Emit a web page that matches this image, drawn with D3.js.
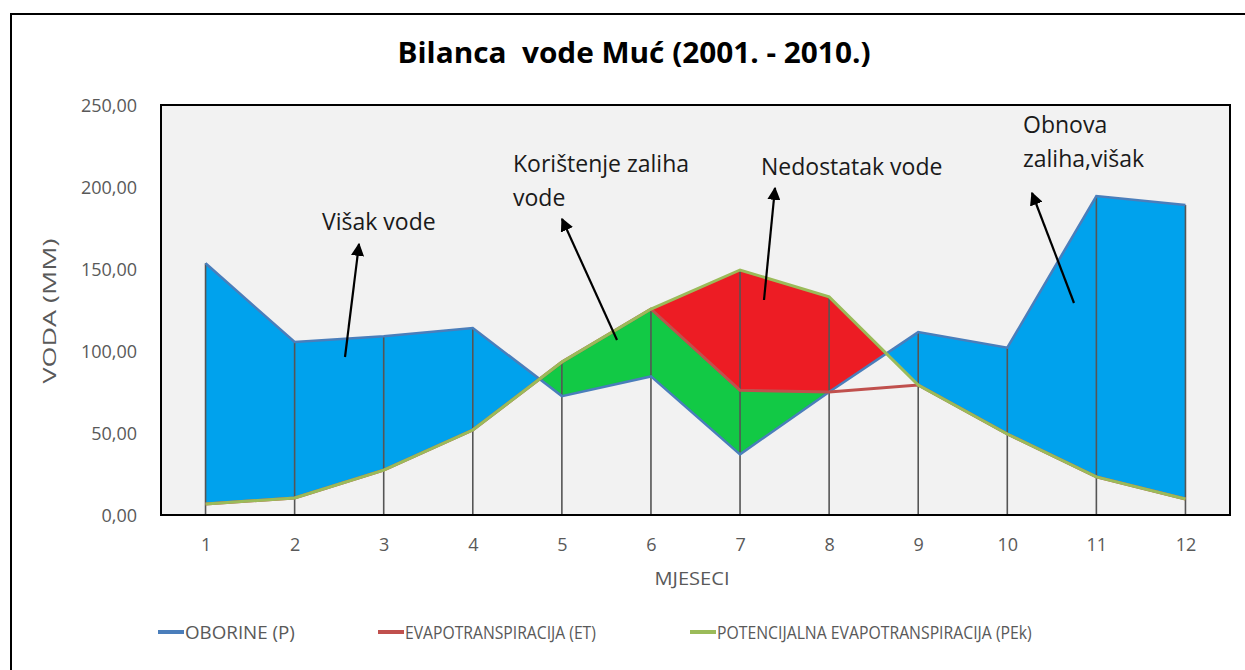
<!DOCTYPE html>
<html>
<head>
<meta charset="utf-8">
<script src="https://cdn.jsdelivr.net/npm/d3@7"></script>
<style>
  body { margin: 0; background: #fff; }
  svg { display: block; }
  text { font-family: "Open Sans", "Noto Sans", sans-serif; }
</style>
</head>
<body>
<svg id="chart" width="1245" height="670"></svg>
<script>
// monthly values, mm
const months = [1, 2, 3, 4, 5, 6, 7, 8, 9, 10, 11, 12]
const oborine = [153.5, 105.5, 109, 114, 72.5, 84.5, 37, 75, 111.5, 102, 194.5, 189]
const evapotranspiracija = [6.7, 10.4, 27.4, 51.8, 93.3, 125.6, 76, 75, 79.3, 49.4, 23.2, 9.8]
const potencijalna = [6.7, 10.4, 27.4, 51.8, 93.3, 125.6, 149.4, 133, 79.3, 49.4, 23.2, 9.8]
const yTicks = [0, 50, 100, 150, 200, 250]

const notes = [
  { lines: ['Višak vode'], x: 322, y: 230, from: [345, 357], to: [359, 244] },
  { lines: ['Korištenje zaliha', 'vode'], x: 513, y: 172, from: [617, 340], to: [562, 219] },
  { lines: ['Nedostatak vode'], x: 761, y: 175, from: [764, 300], to: [775, 188] },
  { lines: ['Obnova', 'zaliha,višak'], x: 1023, y: 133, from: [1074, 303], to: [1032, 193] }
]

const legendItems = [
  { name: 'OBORINE (P)', color: '#4a7ebb', x: 158, w: 110 },
  { name: 'EVAPOTRANSPIRACIJA (ET)', color: '#c0504d', x: 378, w: 191 },
  { name: 'POTENCIJALNA EVAPOTRANSPIRACIJA (PEk)', color: '#9bbb59', x: 690, w: 315 }
]

const svg = d3.select('#chart')
const plot = { left: 161, top: 105, right: 1230, bottom: 515 }

const rows = months.map((m, i) => ({ m, p: oborine[i], et: evapotranspiracija[i], pe: potencijalna[i] }))

const x = d3.scalePoint().domain(months).range([plot.left, plot.right]).padding(0.5)
const y = d3.scaleLinear().domain([0, 250]).range([plot.bottom, plot.top])

// squeeze a text horizontally to a given width (narrow office font look)
function fitWidth (sel, w) {
  sel.each(function (d) {
    const len = this.getComputedTextLength()
    const target = typeof w === 'function' ? w(d) : w
    const x0 = +this.getAttribute('x') || 0
    d3.select(this).attr('transform', `translate(${x0},0) scale(${target / len},1) translate(${-x0},0)`)
  })
}

// outer frame
svg.append('rect')
  .attr('x', 11).attr('y', 14).attr('width', 1260).attr('height', 700)
  .attr('fill', '#fff').attr('stroke', '#000').attr('stroke-width', 2)

svg.append('text')
  .attr('x', 634).attr('y', 63)
  .attr('text-anchor', 'middle')
  .attr('font-size', 28).attr('font-weight', 'bold').attr('fill', '#000')
  .attr('textLength', 473).attr('lengthAdjust', 'spacingAndGlyphs')
  .text('Bilanca\u00a0 vode Muć (2001. - 2010.)')

svg.append('rect')
  .attr('x', plot.left).attr('y', plot.top)
  .attr('width', plot.right - plot.left).attr('height', plot.bottom - plot.top)
  .attr('fill', '#f2f2f2')

// clip regions: everything above a given series
const defs = svg.append('defs')
const above = (id, key) => {
  defs.append('clipPath').attr('id', id)
    .append('path')
    .attr('d', d3.area().x(d => x(d.m)).y0(d => y(d[key])).y1(plot.top - 5)(rows))
}
above('abovePE', 'pe')
above('aboveP', 'p')
above('aboveET', 'et')

const band = (a, b) => d3.area().x(d => x(d.m)).y0(d => y(d[a])).y1(d => y(d[b]))

// surplus: P above PE
svg.append('path')
  .attr('d', band('pe', 'p')(rows))
  .attr('clip-path', 'url(#abovePE)')
  .attr('fill', '#00a2ed')

// use of soil storage: ET above P
svg.append('path')
  .attr('d', band('p', 'et')(rows))
  .attr('clip-path', 'url(#aboveP)')
  .attr('fill', '#12c945')

// deficit: PE above ET and P
svg.append('g').attr('clip-path', 'url(#aboveP)')
  .append('path')
  .attr('d', band('et', 'pe')(rows))
  .attr('clip-path', 'url(#aboveET)')
  .attr('fill', '#ed1c24')

// drop lines
svg.append('g').selectAll('line')
  .data(rows)
  .join('line')
  .attr('x1', d => x(d.m)).attr('x2', d => x(d.m))
  .attr('y1', d => y(Math.max(d.p, d.pe, d.et))).attr('y2', plot.bottom)
  .attr('stroke', '#555').attr('stroke-width', 1.6)

const line = key => d3.line().x(d => x(d.m)).y(d => y(d[key]))
svg.append('path').attr('d', line('p')(rows))
  .attr('fill', 'none').attr('stroke', '#4a7ebb').attr('stroke-width', 2.5)
svg.append('path').attr('d', line('et')(rows))
  .attr('fill', 'none').attr('stroke', '#c0504d').attr('stroke-width', 3)
svg.append('path').attr('d', line('pe')(rows))
  .attr('fill', 'none').attr('stroke', '#9bbb59').attr('stroke-width', 3)

// plot border
svg.append('rect')
  .attr('x', plot.left).attr('y', plot.top)
  .attr('width', plot.right - plot.left).attr('height', plot.bottom - plot.top)
  .attr('fill', 'none').attr('stroke', '#000').attr('stroke-width', 2)

// axes
const yAxis = svg.append('g')
  .attr('transform', `translate(${plot.left - 21},0)`)
  .call(d3.axisLeft(y).tickValues(yTicks).tickSize(0).tickFormat(d => d3.format('.2f')(d).replace('.', ',')))
yAxis.select('.domain').remove()
yAxis.selectAll('text')
  .attr('font-size', 18).attr('fill', '#595959').attr('font-family', '"Open Sans", sans-serif')
  .attr('dy', '0.35em')

const xAxis = svg.append('g')
  .attr('transform', `translate(0,${plot.bottom + 20})`)
  .call(d3.axisBottom(x).tickSize(0))
xAxis.select('.domain').remove()
xAxis.selectAll('text')
  .attr('font-size', 18).attr('fill', '#595959').attr('font-family', '"Open Sans", sans-serif')

svg.append('text')
  .attr('transform', 'translate(56,311) rotate(-90)')
  .attr('text-anchor', 'middle')
  .attr('font-size', 18).attr('fill', '#595959')
  .attr('textLength', 145).attr('lengthAdjust', 'spacingAndGlyphs')
  .text('VODA (MM)')

svg.append('text')
  .attr('x', 692).attr('y', 585)
  .attr('text-anchor', 'middle')
  .attr('font-size', 18).attr('fill', '#595959')
  .attr('textLength', 75).attr('lengthAdjust', 'spacingAndGlyphs')
  .text('MJESECI')

// annotations
defs.append('marker')
  .attr('id', 'head')
  .attr('viewBox', '0 0 10 10')
  .attr('refX', 9).attr('refY', 5)
  .attr('markerWidth', 6).attr('markerHeight', 6)
  .attr('orient', 'auto')
  .append('path').attr('d', 'M0,0L10,5L0,10z').attr('fill', '#000')

const note = svg.append('g').selectAll('g')
  .data(notes)
  .join('g')

note.append('line')
  .attr('x1', d => d.from[0]).attr('y1', d => d.from[1])
  .attr('x2', d => d.to[0]).attr('y2', d => d.to[1])
  .attr('stroke', '#000').attr('stroke-width', 2.2)
  .attr('marker-end', 'url(#head)')

note.append('text')
  .attr('font-size', 23).attr('fill', '#1a1a1a')
  .selectAll('tspan')
  .data(d => d.lines.map((t, i) => ({ t, x: d.x, y: d.y + i * 34 })))
  .join('tspan')
  .attr('x', d => d.x).attr('y', d => d.y)
  .text(d => d.t)

// legend
const leg = svg.append('g').selectAll('g')
  .data(legendItems)
  .join('g')
  .attr('transform', d => `translate(${d.x},632)`)

leg.append('line')
  .attr('x1', 0).attr('x2', 26)
  .attr('stroke', d => d.color).attr('stroke-width', 4)

leg.append('text')
  .attr('x', 27).attr('y', 7)
  .attr('font-size', 19).attr('fill', '#595959')
  .text(d => d.name)
  .call(fitWidth, d => d.w)
</script>
</body>
</html>
